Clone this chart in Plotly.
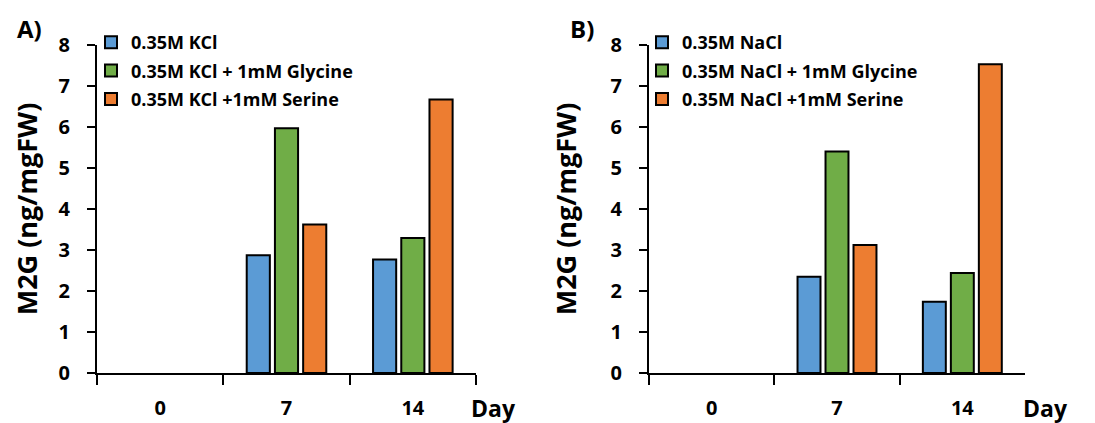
import plotly.graph_objects as go

days = ["0", "7", "14"]

kcl_names = ["0.35M KCl", "0.35M KCl + 1mM Glycine", "0.35M KCl +1mM Serine"]
kcl_ctrl = [0, 2.87, 2.77]
kcl_gly = [0, 5.97, 3.29]
kcl_ser = [0, 3.62, 6.67]

nacl_names = ["0.35M NaCl", "0.35M NaCl + 1mM Glycine", "0.35M NaCl +1mM Serine"]
nacl_ctrl = [0, 2.35, 1.74]
nacl_gly = [0, 5.40, 2.44]
nacl_ser = [0, 3.12, 7.53]

colors = ["#5B9BD5", "#70AD47", "#ED7D31"]
FONT = "Open Sans"

# page body adds an 8px offset; layout numbers below are in screen pixels
OFF = 8
W, H = 1095, 423
TOP, BOT = 45, 373          # screen y of y=8 and y=0
MT = TOP - OFF
MB = H - (BOT - OFF)
PH = BOT - TOP


def px(x):
    return (x - OFF) / W


def py(y):
    return (BOT - y) / PH


def shown(vals):
    # zero-height bars are not drawn (as in the original figure)
    return [None if v == 0 else v for v in vals]


fig = go.Figure()

for vals, name, col, grp in zip([kcl_ctrl, kcl_gly, kcl_ser], kcl_names, colors, ["a1", "a2", "a3"]):
    fig.add_trace(go.Bar(x=days, y=shown(vals), name=name,
                         marker=dict(color=col, line=dict(color="black", width=2)),
                         xaxis="x", yaxis="y", legend="legend", legendgroup=grp))
for vals, name, col, grp in zip([nacl_ctrl, nacl_gly, nacl_ser], nacl_names, colors, ["b1", "b2", "b3"]):
    fig.add_trace(go.Bar(x=days, y=shown(vals), name=name,
                         marker=dict(color=col, line=dict(color="black", width=2)),
                         xaxis="x2", yaxis="y2", legend="legend2", legendgroup=grp))

xcommon = dict(type="category", categoryorder="array", categoryarray=days, showline=True, linecolor="black",
               linewidth=2, ticks="outside", tickson="boundaries", ticklen=10, tickwidth=2, tickcolor="black",
               showgrid=False, automargin=False,
               tickfont=dict(family=FONT, size=20, color="black", weight="bold"),
               ticklabelstandoff=16)
ycommon = dict(range=[0, 8], dtick=1, showline=True, linecolor="black", linewidth=2, ticks="outside",
               ticklen=8, tickwidth=2, tickcolor="black", showgrid=False, zeroline=False, automargin=False,
               tickfont=dict(family=FONT, size=20, color="black", weight="bold"),
               ticklabelstandoff=13,
               title=dict(text="M2G (ng/mgFW)", font=dict(family=FONT, size=27, color="black", weight="bold"),
                          standoff=26))

legcommon = dict(font=dict(family=FONT, size=18, color="black", weight="bold"), bgcolor="rgba(0,0,0,0)",
                 yanchor="top", xanchor="left", tracegroupgap=2, traceorder="grouped", itemwidth=30)

ann_font = dict(family=FONT, size=24, color="black", weight="bold")
day_font = dict(family=FONT, size=23, color="black", weight="bold")

fig.update_layout(
    template="none",
    width=W, height=H,
    margin=dict(l=0, r=0, t=MT, b=MB, autoexpand=False),
    paper_bgcolor="white", plot_bgcolor="white",
    barmode="group", bargap=0.33, bargroupgap=0.18,
    xaxis=dict(domain=[px(97), px(476)], anchor="y", **xcommon),
    yaxis=dict(domain=[0, 1], anchor="x", **ycommon),
    xaxis2=dict(domain=[px(649), px(1025)], anchor="y2", **xcommon),
    yaxis2=dict(domain=[0, 1], anchor="x2", **ycommon),
    legend=dict(x=px(91), y=py(24), **legcommon),
    legend2=dict(x=px(642), y=py(24), **legcommon),
    annotations=[
        dict(text="A)", x=px(29), y=py(29), xref="paper", yref="paper", showarrow=False,
             xanchor="center", yanchor="middle", font=ann_font),
        dict(text="B)", x=px(582), y=py(29), xref="paper", yref="paper", showarrow=False,
             xanchor="center", yanchor="middle", font=ann_font),
        dict(text="Day", x=px(493), y=py(408), xref="paper", yref="paper", showarrow=False,
             xanchor="center", yanchor="middle", font=day_font),
        dict(text="Day", x=px(1045), y=py(408), xref="paper", yref="paper", showarrow=False,
             xanchor="center", yanchor="middle", font=day_font),
    ],
)

fig.write_html("out.html")
